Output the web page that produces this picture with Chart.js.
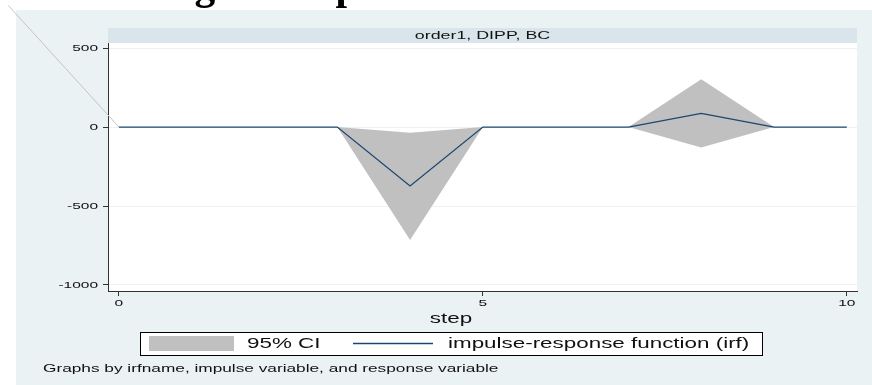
<!DOCTYPE html>
<html>
<head>
<meta charset="utf-8">
<script src="https://cdn.jsdelivr.net/npm/chart.js@4.4.1/dist/chart.umd.min.js"></script>
<style>
  body { margin: 0; background: #fff; }
  canvas { display: block; }
</style>
</head>
<body>
<canvas id="irfChart" width="872" height="385"></canvas>
<script>
// values
const steps = [0, 1, 2, 3, 4, 5, 6, 7, 8, 9, 10];
const irf = [0, 0, 0, 0, -373, 0, 0, 0, 87, 0, 0];
const ciLower = [0, 0, 0, 0, -715, 0, 0, 0, -129, 0, 0];
const ciUpper = [0, 0, 0, 0, -36, 0, 0, 0, 302, 0, 0];
// stray edge of the CI polygon running off to the top-left corner
const edgeX = [0, -1.52];
const edgeY = [0, 770];

const xTicks = [0, 5, 10];
const yTicks = [-1000, -500, 0, 500];

const panelTitle = 'order1, DIPP, BC';
const xTitle = 'step';
const legendLabels = ['95% CI', 'impulse-response function (irf)'];
const footnote = 'Graphs by irfname, impulse variable, and response variable';
// page heading above the graph, cut off so only its descenders show
const pageTitle = 'Figure Impulse Shock';

const navy = '#1a476f';
const ciGrey = '#c0c0c0';

const pts = (xs, ys) => xs.map((x, i) => ({ x: x, y: ys[i] }));

// text in the picture is stretched sideways, so draw it scaled
const wideText = (ctx, str, x, y, size, sx, align, base) => {
    ctx.save();
    ctx.font = size + 'px "Liberation Sans", Arial, sans-serif';
    ctx.fillStyle = '#111';
    ctx.textAlign = align;
    ctx.textBaseline = base;
    ctx.translate(x, y);
    ctx.scale(sx, 1);
    ctx.fillText(str, 0, 0);
    ctx.restore();
}

const backdrop = {
    id: 'backdrop',
    beforeDraw(chart) {
        const ctx = chart.ctx;
        const a = chart.chartArea;
        ctx.save();
        ctx.fillStyle = '#fff';
        ctx.fillRect(0, 0, chart.width, chart.height);

        // heading: size it so the g and the p land where they do in the picture
        const serif = s => 'bold ' + s + 'px "Liberation Serif", serif';
        ctx.font = serif(100);
        const gi = pageTitle.indexOf('g');
        const pi = pageTitle.indexOf('p');
        const gx = ctx.measureText(pageTitle.slice(0, gi)).width + 25;
        const px = ctx.measureText(pageTitle.slice(0, pi)).width + 13;
        const k = 136 / (px - gx);
        ctx.font = serif((100 * k).toFixed(2));
        ctx.fillStyle = '#000';
        ctx.textAlign = 'left';
        ctx.textBaseline = 'alphabetic';
        ctx.fillText(pageTitle, 205 - gx * k, -1);

        ctx.fillStyle = '#eaf2f3';
        ctx.fillRect(16, 10, chart.width - 16, chart.height - 10);
        ctx.fillStyle = '#fff';
        ctx.fillRect(a.left, a.top, a.right - a.left, a.bottom - a.top);
        ctx.fillStyle = '#d9e5ea';
        ctx.fillRect(a.left, 28, a.right - a.left, a.top - 28);
        ctx.restore();
        wideText(ctx, panelTitle, (a.left + a.right) / 2, 36, 11, 1.62, 'center', 'middle');
    },
    afterDraw(chart) {
        const ctx = chart.ctx;
        const xs = chart.scales.x, ys = chart.scales.y;
        yTicks.forEach(v => wideText(ctx, String(v), 98, ys.getPixelForValue(v) + 0.5, 9, 1.72, 'right', 'middle'));
        xTicks.forEach(v => wideText(ctx, String(v), xs.getPixelForValue(v), 304, 9, 1.72, 'center', 'middle'));
        wideText(ctx, xTitle, 451, 323, 14, 1.6, 'center', 'alphabetic');

        // legend
        ctx.save();
        ctx.fillStyle = '#fff';
        ctx.fillRect(140, 332, 622, 24);
        ctx.strokeStyle = '#000';
        ctx.lineWidth = 1;
        ctx.strokeRect(140.5, 332.5, 622, 23);
        ctx.fillStyle = ciGrey;
        ctx.fillRect(149, 336, 85, 15);
        ctx.strokeStyle = navy;
        ctx.lineWidth = 1.3;
        ctx.beginPath();
        ctx.moveTo(353, 343.5);
        ctx.lineTo(433, 343.5);
        ctx.stroke();
        ctx.restore();
        wideText(ctx, legendLabels[0], 247, 344, 14, 1.6, 'left', 'middle');
        wideText(ctx, legendLabels[1], 448, 344, 14, 1.6, 'left', 'middle');

        wideText(ctx, footnote, 43, 372, 11.5, 1.5, 'left', 'alphabetic');
    }
};

const ctx = document.getElementById('irfChart').getContext('2d');
const myChart = new Chart(ctx, {
    type: 'line',
    data: {
        datasets: [{
            label: legendLabels[1],
            data: pts(steps, irf),
            borderColor: navy,
            borderWidth: 1.3,
            pointRadius: 0,
            fill: false
        }, {
            label: legendLabels[0],
            data: pts(steps, ciUpper),
            borderWidth: 0,
            borderColor: ciGrey,
            backgroundColor: ciGrey,
            pointRadius: 0,
            fill: '+1'
        }, {
            label: 'lower',
            data: pts(steps, ciLower),
            borderWidth: 0,
            borderColor: ciGrey,
            pointRadius: 0,
            fill: false
        }, {
            label: 'edge',
            data: pts(edgeX, edgeY),
            borderColor: '#c4c4c4',
            borderWidth: 1,
            pointRadius: 0,
            fill: false,
            clip: false
        }]
    },
    options: {
        responsive: false,
        devicePixelRatio: 1,
        animation: false,
        layout: { padding: { left: 0, top: 43, right: 15, bottom: 0 } },
        plugins: {
            legend: { display: false },
            tooltip: { enabled: false },
            title: { display: false }
        },
        elements: { line: { tension: 0 } },
        scales: {
            x: {
                type: 'linear',
                min: -0.15,
                max: 10.14,
                afterBuildTicks: s => { s.ticks = xTicks.map(v => ({ value: v })); },
                afterFit: s => { s.height = 94; },
                ticks: { display: false },
                grid: { drawOnChartArea: false, drawTicks: true, tickLength: 5, tickColor: '#333' },
                border: { display: true, color: '#333', width: 1 }
            },
            y: {
                type: 'linear',
                min: -1038,
                max: 532,
                afterBuildTicks: s => { s.ticks = yTicks.map(v => ({ value: v })); },
                afterFit: s => { s.width = 108; },
                ticks: { display: false },
                grid: { color: '#eaf2f3', drawTicks: true, tickLength: 5, tickColor: '#333' },
                border: { display: true, color: '#333', width: 1 }
            }
        }
    },
    plugins: [backdrop]
});
</script>
</body>
</html>
